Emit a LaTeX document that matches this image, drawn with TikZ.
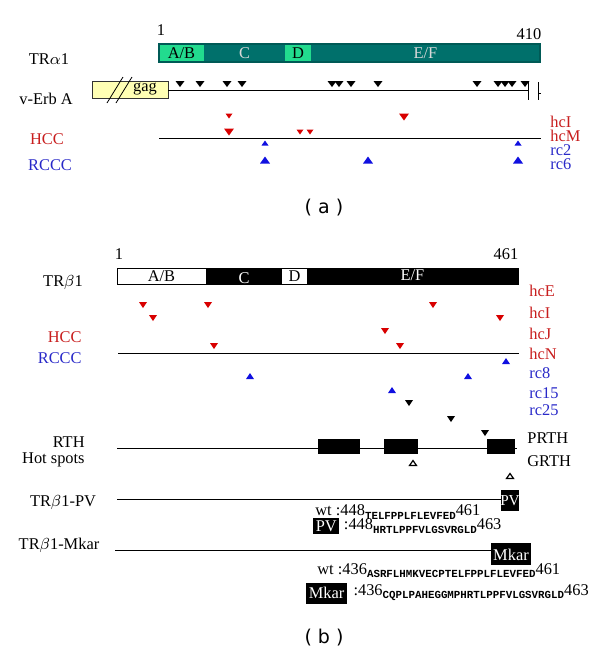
\documentclass[tikz,border=0pt]{standalone}
\usepackage{fontspec}
\setmainfont{Liberation Serif}
\setsansfont{DejaVu Sans}
\setmonofont{Liberation Mono}
\usetikzlibrary{positioning}
\definecolor{trteal}{HTML}{00706B}
\definecolor{trmint}{HTML}{22DB8E}
\definecolor{gagyel}{HTML}{FFFFB4}
\definecolor{hcred}{HTML}{D80000}
\definecolor{rcblue}{HTML}{1010E0}
\definecolor{hctext}{HTML}{C81E1E}
\definecolor{rctext}{HTML}{2828C8}

% triangles: [colour]{x}{y}{width}{height}
\newcommand{\tridown}[5][black]{\fill[#1] (#2-#4/2,#3-#5/2) -- (#2+#4/2,#3-#5/2) -- (#2,#3+#5/2) -- cycle;}
\newcommand{\triup}[5][black]{\fill[#1] (#2-#4/2,#3+#5/2) -- (#2+#4/2,#3+#5/2) -- (#2,#3-#5/2) -- cycle;}
\newcommand{\seqsub}[1]{\raisebox{-1.6pt}{\fontsize{5.4}{6}\selectfont\ttfamily\bfseries #1}}

\begin{document}
\begin{tikzpicture}[x=0.5pt, y=-0.5pt,
    lab/.style={font=\fontsize{8.2}{9}\selectfont, inner sep=0pt},
    hclab/.style={lab, text=hctext, anchor=west, text height=5.6pt, text depth=0pt},
    rclab/.style={lab, text=rctext, anchor=west, text height=5.6pt, text depth=0pt},
    panelcap/.style={font=\sffamily\fontsize{9.5}{10}\selectfont, inner sep=0pt},
    tag/.style={lab, fill=black, text=white, inner sep=1.2pt}]
  \useasboundingbox (0,0) rectangle (600,654);

  % ---------- (a) TR alpha 1 ----------
  \fill[trmint] (159,44) rectangle (204,62);
  \fill[trteal] (204,44) rectangle (285,62);
  \fill[trmint] (285,44) rectangle (311,62);
  \fill[trteal] (311,44) rectangle (540,62);
  \draw[trteal!80!black, line width=0.6] (159,44) rectangle (540,62);
  \node[lab] (ab1) at (181.5,53) {A/B};
  \node[lab, text=white!85!black] (c1) at (244.5,53) {C};
  \node[lab] (d1) at (298,53) {D};
  \node[lab, text=white!85!black] (ef1) at (425.5,53) {E/F};
  \node[lab] (starta) at (161,30) {1};
  \node[lab] (enda) at (529,34) {410};
  \node[lab] (tra) at (49,59) {TR$\alpha$1};

  % v-Erb A
  \filldraw[fill=gagyel, draw=black!80] (92,81) rectangle (168,98);
  \node[lab] (gag) at (145,89) {gag};
  \draw (107,103) -- (123,77);
  \draw (116,103) -- (132,77);
  \draw (168,90) -- (528,90);
  \draw (528,82) -- (528,100);
  \draw (538,82) -- (538,100);
  \draw (538,93) -- (541,93);
  \node[lab] (verb) at (46,99) {v-Erb A};
  \foreach \x in {180,200,227,242,332,339,351,378,477,498,505,512,525}
    {\tridown{\x}{84}{9}{6}}

  % HCC / RCCC
  \draw (159,138) -- (541,138);
  \tridown[hcred]{229}{116}{7}{5}
  \tridown[hcred]{404}{117}{10}{7}
  \tridown[hcred]{229}{132}{10}{7}
  \tridown[hcred]{300}{132}{7}{5}
  \tridown[hcred]{310}{132}{7}{5}
  \triup[rcblue]{265}{143}{7}{5}
  \triup[rcblue]{518}{143}{7}{5}
  \foreach \x in {265,368,518}
    {\triup[rcblue]{\x}{160}{10}{7}}
  \node[lab, text=hctext] (hcca) at (47,139) {HCC};
  \node[lab, text=rctext] (rccca) at (50,165) {RCCC};
  \node[hclab] (hcIa) at (550,122) {hcI};
  \node[hclab] (hcMa) at (550,136) {hcM};
  \node[rclab] (rc2) at (550,150) {rc2};
  \node[rclab] (rc6) at (550,164) {rc6};
  \node[panelcap] (capa) at (324,208) {( a )};

  % ---------- (b) TR beta 1 ----------
  \draw[fill=white] (117,268) rectangle (518,284);
  \fill (206,268) rectangle (282,284);
  \fill (307,268) rectangle (518,284);
  \draw (117,268) rectangle (518,284);
  \node[lab] (ab2) at (161.5,276) {A/B};
  \node[lab, text=white] (c2) at (244,278) {C};
  \node[lab] (d2) at (294.5,276) {D};
  \node[lab, text=white] (ef2) at (412.5,275) {E/F};
  \node[lab] (startb) at (119,254) {1};
  \node[lab] (endb) at (506,254) {461};
  \node[lab] (trb) at (63,282) {TR$\beta$1};

  % mutations
  \foreach \x/\y in {143/305,208/305,433/305,153/318,500/318,385/331,214/346,400/346}
    {\tridown[hcred]{\x}{\y}{8}{6}}
  \draw (118,353) -- (519,353);
  \foreach \x/\y in {506/361,250/376,468/376,392/390}
    {\triup[rcblue]{\x}{\y}{8}{6}}
  \foreach \x/\y in {409/403,451/419,485/433}
    {\tridown{\x}{\y}{8}{6}}
  \node[lab, text=hctext, anchor=east] (hccb) at (82,337) {HCC};
  \node[lab, text=rctext, anchor=east] (rcccb) at (82,358) {RCCC};
  \node[hclab] (hcE) at (529,291) {hcE};
  \node[hclab] (hcIb) at (529,313) {hcI};
  \node[hclab] (hcJ) at (529,334) {hcJ};
  \node[hclab] (hcN) at (529,354) {hcN};
  \node[rclab] (rc8) at (529,373) {rc8};
  \node[rclab] (rc15) at (529,393) {rc15};
  \node[rclab] (rc25) at (529,410) {rc25};

  % RTH hot spots
  \draw (117,448) -- (517,448);
  \fill (318,439) rectangle (360,454);
  \fill (384,439) rectangle (418,454);
  \fill (487,439) rectangle (515,454);
  \draw[line width=0.6] (413-3.5,463+2.5) -- (413+3.5,463+2.5) -- (413,463-2.5) -- cycle;
  \draw[line width=0.6] (510-3.5,476+2.5) -- (510+3.5,476+2.5) -- (510,476-2.5) -- cycle;
  \node[lab, anchor=east] (rth) at (85,442) {RTH};
  \node[lab, anchor=east] (hot) at (85,460) {Hot spots};
  \node[lab, anchor=west] (prth) at (527,438) {PRTH};
  \node[lab, anchor=west] (grth) at (527,461) {GRTH};

  % TR beta 1 - PV
  \draw (117,499) -- (501,499);
  \fill (501,490) rectangle (519,511);
  \node[lab, text=white, font=\fontsize{7.6}{8}\selectfont] (pvbox) at (510,501) {PV};
  \node[lab] (trpv) at (63,502) {TR$\beta$1-PV};
  \node[lab, anchor=west] (wtpv) at (315,512) {wt :448\seqsub{TELFPPLFLEVFED}461};
  \node[tag, anchor=west] (pvtag) at (313,526) {PV};
  \node[lab, anchor=west, right=2pt of pvtag] (mutpv) {:448\seqsub{HRTLPPFVLGSVRGLD}463};

  % TR beta 1 - Mkar
  \draw (115,550) -- (491,550);
  \fill (491,543) rectangle (531,565);
  \node[lab, text=white] (mkarbox) at (511,555) {Mkar};
  \node[lab] (trmk) at (59,545) {TR$\beta$1-Mkar};
  \node[lab, anchor=west] (wtmk) at (317,571) {wt :436\seqsub{ASRFLHMKVECPTELFPPLFLEVFED}461};
  \node[tag, anchor=west, minimum height=10.5pt] (mktag) at (306,593) {Mkar};
  \node[lab, anchor=west, right=3pt of mktag] (mutmk) {:436\seqsub{CQPLPAHEGGMPHRTLPPFVLGSVRGLD}463};
  \node[panelcap] (capb) at (324,638) {( b )};
\end{tikzpicture}
\end{document}
